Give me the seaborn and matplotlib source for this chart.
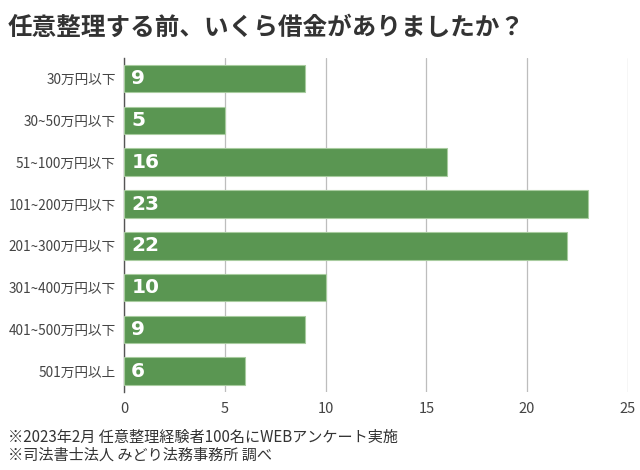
import matplotlib
matplotlib.use('Agg')
import matplotlib.pyplot as plt
import seaborn as sns
import pandas as pd

# chart data
categories = ['30万円以下', '30~50万円以下', '51~100万円以下', '101~200万円以下',
              '201~300万円以下', '301~400万円以下', '401~500万円以下', '501万円以上']
counts = [9, 5, 16, 23, 22, 10, 9, 6]
x_ticks = [0, 5, 10, 15, 20, 25]

title = '任意整理する前、いくら借金がありましたか？'
notes = ['※2023年2月 任意整理経験者100名にWEBアンケート実施',
         '※司法書士法人 みどり法務事務所 調べ']

sns.set_theme(style='white')
plt.rcParams['font.family'] = ['Noto Sans CJK JP', 'DejaVu Sans']

df = pd.DataFrame({'category': categories, 'count': counts})

fig = plt.figure(figsize=(6.4, 4.7), dpi=100)
ax = fig.add_axes([0.194, 0.166, 0.787, 0.711])

sns.barplot(data=df, x='count', y='category', color='#5a9652', saturation=1,
            width=0.66, ax=ax, zorder=3, edgecolor='#a8cc9f', linewidth=0.8)

# value labels inside bars
for i, v in enumerate(counts):
    ax.text(0.35, i, str(v), color='white', fontsize=14.5, fontweight='bold',
            va='center', ha='left', zorder=4, family='DejaVu Sans')

ax.set_xlim(0, 25)
ax.set_ylim(len(categories) - 0.5, -0.5)
ax.set_xticks(x_ticks)
ax.xaxis.grid(True, color='#bdbdbd', linewidth=0.9, zorder=0)
ax.set_xlabel('')
ax.set_ylabel('')
for side in ['top', 'right', 'bottom']:
    ax.spines[side].set_visible(False)
ax.spines['left'].set_color('#555555')
ax.spines['left'].set_linewidth(1.0)
ax.tick_params(axis='x', length=0, pad=7, labelsize=10.5, labelcolor='#444444')
ax.tick_params(axis='y', length=0, pad=6, labelsize=9.8, labelcolor='#444444')

fig.text(0.0125, 0.94, title, fontsize=17.7, fontweight='bold', color='#333333',
         ha='left', va='center')
fig.text(0.0125, 0.07, notes[0], fontsize=10.9, color='#333333', ha='left', va='center')
fig.text(0.0125, 0.032, notes[1], fontsize=10.9, color='#333333', ha='left', va='center')

fig.savefig('out.png', dpi=100)
